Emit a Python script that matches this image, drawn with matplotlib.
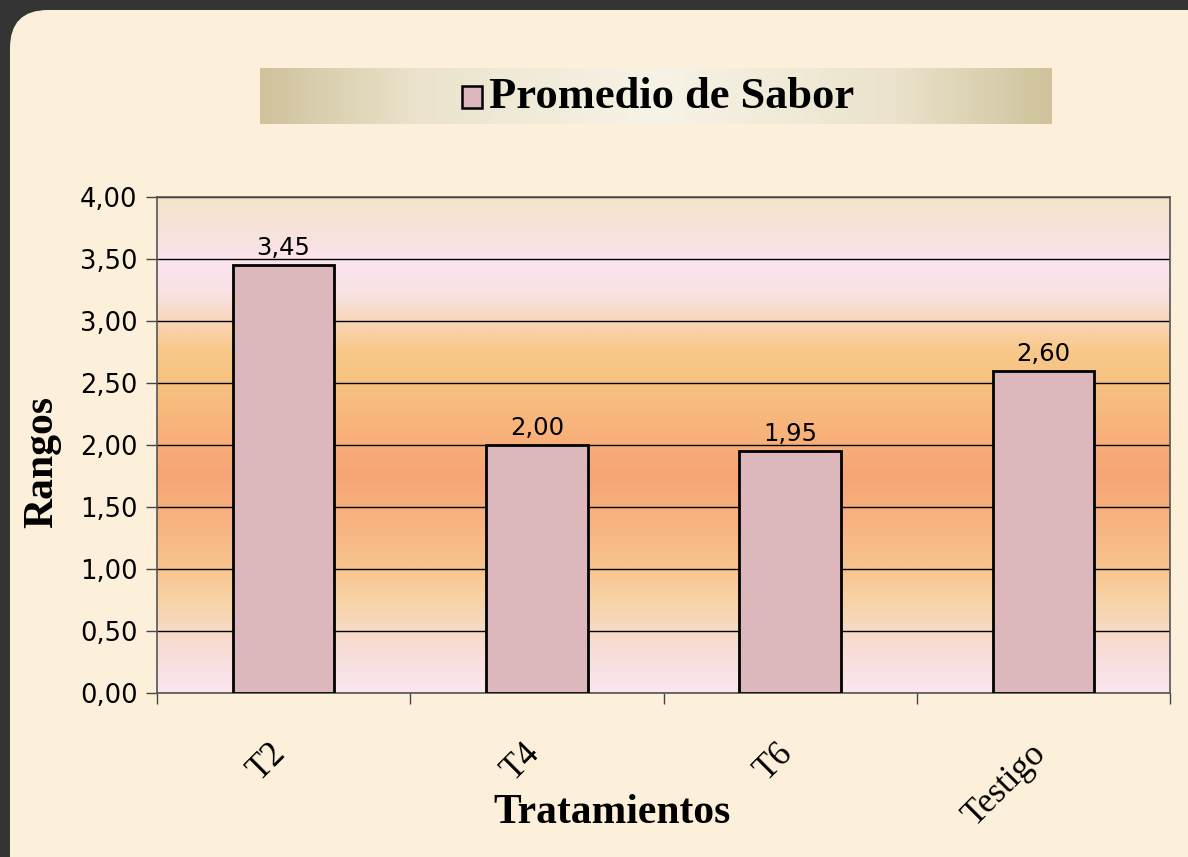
import numpy as np
import matplotlib
matplotlib.use("Agg")
import matplotlib.pyplot as plt
from matplotlib.colors import LinearSegmentedColormap
from matplotlib.patches import FancyBboxPatch, Rectangle

categories = ["T2", "T4", "T6", "Testigo"]
values = [3.45, 2.00, 1.95, 2.60]
value_labels = ["3,45", "2,00", "1,95", "2,60"]
yticks = [0.0, 0.5, 1.0, 1.5, 2.0, 2.5, 3.0, 3.5, 4.0]
ytick_labels = ["0,00", "0,50", "1,00", "1,50", "2,00", "2,50", "3,00", "3,50", "4,00"]
legend_label = "Promedio de Sabor"
xlabel = "Tratamientos"
ylabel = "Rangos"

W, H = 1188, 857
fig = plt.figure(figsize=(W / 100, H / 100), dpi=100)
fig.patch.set_facecolor("#353535")

# background panel
bg = fig.add_axes([0, 0, 1, 1])
bg.set_xlim(0, W)
bg.set_ylim(H, 0)
bg.axis("off")
bg.add_patch(FancyBboxPatch((10, 10), 1400, 1100, boxstyle="round,pad=0,rounding_size=38",
                            facecolor="#fcf0da", edgecolor="none"))

# legend box with horizontal gradient
lx0, lx1, ly0, ly1 = 260, 1052, 68, 124
lg = fig.add_axes([lx0 / W, 1 - ly1 / H, (lx1 - lx0) / W, (ly1 - ly0) / H])
lg_cmap = LinearSegmentedColormap.from_list("lg", [(0, "#cfc29c"), (0.2, "#ebe3cc"), (0.5, "#f7f3e6"),
                                                   (0.8, "#ebe3cc"), (1, "#cfc29c")])
lg.imshow(np.linspace(0, 1, 256)[None, :], cmap=lg_cmap, aspect="auto", extent=[0, lx1 - lx0, ly1 - ly0, 0])
lg.set_xlim(0, lx1 - lx0)
lg.set_ylim(ly1 - ly0, 0)
lg.axis("off")
lg.add_patch(Rectangle((462 - lx0, 86 - ly0), 20, 22, facecolor="#dcb8bc", edgecolor="black",
                       lw=1.8, zorder=5))
fig.text(489 / W, 1 - 97 / H, legend_label, fontsize=32, fontweight="bold",
         family="Liberation Serif", va="center", ha="left")

# main axes
x0, x1, y0, y1 = 157, 1170, 197, 693
ax = fig.add_axes([x0 / W, 1 - y1 / H, (x1 - x0) / W, (y1 - y0) / H])
stops = [(0.0, "#fce6f0"), (0.1, "#f7dcd2"), (0.19, "#f8d2a4"), (0.25, "#f7c48e"),
         (0.35, "#f8b280"), (0.44, "#f6a574"), (0.55, "#f8b67c"), (0.63, "#f7c27e"),
         (0.7, "#f8ca8e"), (0.75, "#f8d6b8"), (0.8, "#f9e0e0"), (0.86, "#fce4f0"),
         (0.93, "#f8e2dc"), (1.0, "#f6e4cc")]
cmap = LinearSegmentedColormap.from_list("plotbg", stops)
ax.imshow(np.linspace(0, 1, 512)[:, None], cmap=cmap, aspect="auto", origin="lower",
          extent=[-0.5, 3.5, 0, 4], zorder=0)
ax.set_xlim(-0.5, 3.5)
ax.set_ylim(0, 4)
ax.set_yticks(yticks)
ax.set_yticklabels(ytick_labels)
ax.yaxis.grid(True, color="black", lw=1.0, zorder=1)
ax.set_axisbelow(True)

x = np.arange(len(categories))
bars = ax.bar(x, values, width=0.4, color="#dcb8bc", edgecolor="black", lw=2.0, zorder=3)
for xi, v, lab in zip(x, values, value_labels):
    ax.text(xi, v + 0.04, lab, ha="center", va="bottom", fontsize=17.5, family="DejaVu Sans", zorder=4)

# category labels (rotated), placed relative to each category centre
ax.set_xticks(x)
ax.set_xticklabels([])
for xi, lab in zip(x, categories):
    ax.annotate(lab, xy=(xi, 0), xycoords=("data", "axes fraction"), xytext=(9, -44),
                textcoords="offset pixels", rotation=45, ha="right", va="top",
                fontsize=25, family="Liberation Serif", annotation_clip=False)
ax.set_xticks(np.arange(-0.5, 4, 1), minor=True)
ax.tick_params(axis="x", which="major", length=0)
ax.tick_params(axis="x", which="minor", length=8, width=1, color="#444444", direction="out")
ax.tick_params(axis="y", length=8, width=1, color="#444444", pad=6, labelsize=18.5)
for t in ax.get_yticklabels():
    t.set_family("DejaVu Sans")
for s in ax.spines.values():
    s.set_color("#555555")
    s.set_linewidth(1.2)

fig.text(612 / W, 1 - 813 / H, xlabel, fontsize=30, fontweight="bold", family="Liberation Serif",
         ha="center", va="center")
fig.text(42 / W, 1 - 462 / H, ylabel, fontsize=30, fontweight="bold", family="Liberation Serif",
         ha="center", va="center", rotation=90)

fig.savefig("out.png", dpi=100, facecolor=fig.get_facecolor())
